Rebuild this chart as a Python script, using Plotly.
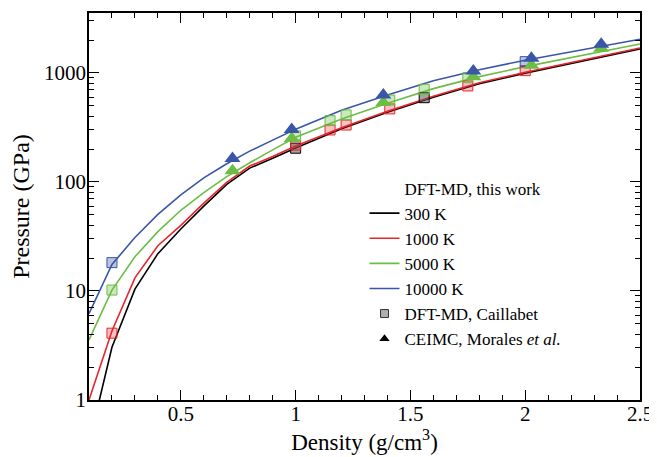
import plotly.graph_objects as go

# ---- data ----
density = [0.1, 0.2, 0.3, 0.4, 0.5, 0.6, 0.7, 0.8, 0.9, 1.0, 1.2, 1.4, 1.6, 1.8, 2.0, 2.2, 2.5]
p_300 = [0.4, 3.05, 10.4, 22, 37, 60, 95, 134, 165, 205, 308, 436, 598, 795, 995, 1225, 1665]
p_1000 = [1.0, 4.3, 13.2, 26, 40, 64, 99, 140, 171, 214, 315, 446, 612, 813, 1014, 1248, 1695]
p_5000 = [3.55, 10.2, 20.6, 35, 55, 80, 112, 150, 197, 257, 378, 528, 718, 925, 1143, 1387, 1845]
p_10000 = [6.2, 17.5, 31, 50.5, 76, 109, 147, 192, 242, 304, 454, 628, 850, 1072, 1307, 1560, 2038]

# DFT-MD, Caillabet (squares)
sq300_d = [1.0, 1.56]
sq300_p = [204, 593]
sq1000_d = [0.2, 1.0, 1.15, 1.22, 1.41, 1.75, 2.0]
sq1000_p = [4.1, 218, 300, 333, 468, 760, 1050]
sq5000_d = [0.2, 1.0, 1.15, 1.22, 1.41, 1.56, 1.75]
sq5000_p = [10.2, 265, 365, 412, 565, 708, 905]
sq10000_d = [0.2, 2.0]
sq10000_p = [18.2, 1270]

# CEIMC, Morales et al. (triangles)
tri_d = [0.725, 0.983, 1.382, 1.774, 2.027, 2.331]
tri5000_p = [127, 250, 535, 925, 1176, 1683]
tri10000_p = [164, 303, 628, 1043, 1361, 1834]

labels = ["300 K", "1000 K", "5000 K", "10000 K"]
colors = ["#000000", "#e8252b", "#6cbd45", "#3a56a6"]
fills = ["rgba(90,90,90,0.55)", "rgba(232,37,43,0.28)", "rgba(108,189,69,0.35)", "rgba(58,86,166,0.35)"]

FONT = "Liberation Serif"

fig = go.Figure()

# legend header
fig.add_trace(go.Scatter(x=[None], y=[None], mode="lines", line=dict(color="rgba(0,0,0,0)", width=1),
                         name="DFT-MD, this work", hoverinfo="skip"))

for lab, col, ys in zip(labels, colors, [p_300, p_1000, p_5000, p_10000]):
    fig.add_trace(go.Scatter(x=density, y=ys, mode="lines", name=lab,
                             line=dict(color=col, width=1.6)))

for col, fc, xs, ys in zip(colors, fills,
                           [sq300_d, sq1000_d, sq5000_d, sq10000_d],
                           [sq300_p, sq1000_p, sq5000_p, sq10000_p]):
    fig.add_trace(go.Scatter(x=xs, y=ys, mode="markers", showlegend=False,
                             marker=dict(symbol="square", size=10, color=fc,
                                         line=dict(color=col, width=1))))

for col, ys in zip([colors[2], colors[3]], [tri5000_p, tri10000_p]):
    fig.add_trace(go.Scatter(x=tri_d, y=ys, mode="markers", showlegend=False,
                             marker=dict(symbol="triangle-up", size=14, color=col,
                                         line=dict(width=0))))

# legend-only entries for the reference data sets
fig.add_trace(go.Scatter(x=[None], y=[None], mode="markers", name="DFT-MD, Caillabet",
                         marker=dict(symbol="square", size=8, color="rgba(120,120,120,0.6)",
                                     line=dict(color="#333333", width=1))))
fig.add_trace(go.Scatter(x=[None], y=[None], mode="markers", name="CEIMC, Morales <i>et al.</i>",
                         marker=dict(symbol="triangle-up", size=9, color="#000000", line=dict(width=0))))

axis_common = dict(showline=True, linecolor="black", linewidth=1.5, mirror="ticks",
                   ticks="inside", ticklen=10, tickwidth=1.2, tickcolor="black",
                   showgrid=False, zeroline=False, automargin=False,
                   tickfont=dict(family=FONT, size=21, color="black"))

fig.update_xaxes(range=[0.1, 2.5], tick0=0, dtick=0.5, ticklabelstandoff=-6,
                 minor=dict(dtick=0.1, ticks="inside", ticklen=5, tickwidth=1.2, tickcolor="black", showgrid=False),
                 title=dict(text="Density (g/cm<sup>3</sup>)", font=dict(family=FONT, size=23, color="black"), standoff=2),
                 **axis_common)
fig.update_yaxes(type="log", range=[0, 3.55], dtick=1, ticklabelstandoff=-3,
                 minor=dict(dtick="D1", ticks="inside", ticklen=5, tickwidth=1.2, tickcolor="black", showgrid=False),
                 title=dict(text="Pressure (GPa)", font=dict(family=FONT, size=24, color="black"), standoff=8),
                 **axis_common)

# page body has an 8px margin, so the figure is sized/offset to place the plot area like the reference
fig.update_layout(
    width=649, height=449,
    margin=dict(l=81, r=17, t=5, b=57),
    paper_bgcolor="white", plot_bgcolor="white",
    font=dict(family=FONT, color="black"),
    legend=dict(x=0.5, y=0.593, xanchor="left", yanchor="top",
                bgcolor="rgba(0,0,0,0)", borderwidth=0,
                font=dict(family=FONT, size=17, color="black"),
                itemwidth=30, tracegroupgap=0),
)

fig.write_html("out.html")
